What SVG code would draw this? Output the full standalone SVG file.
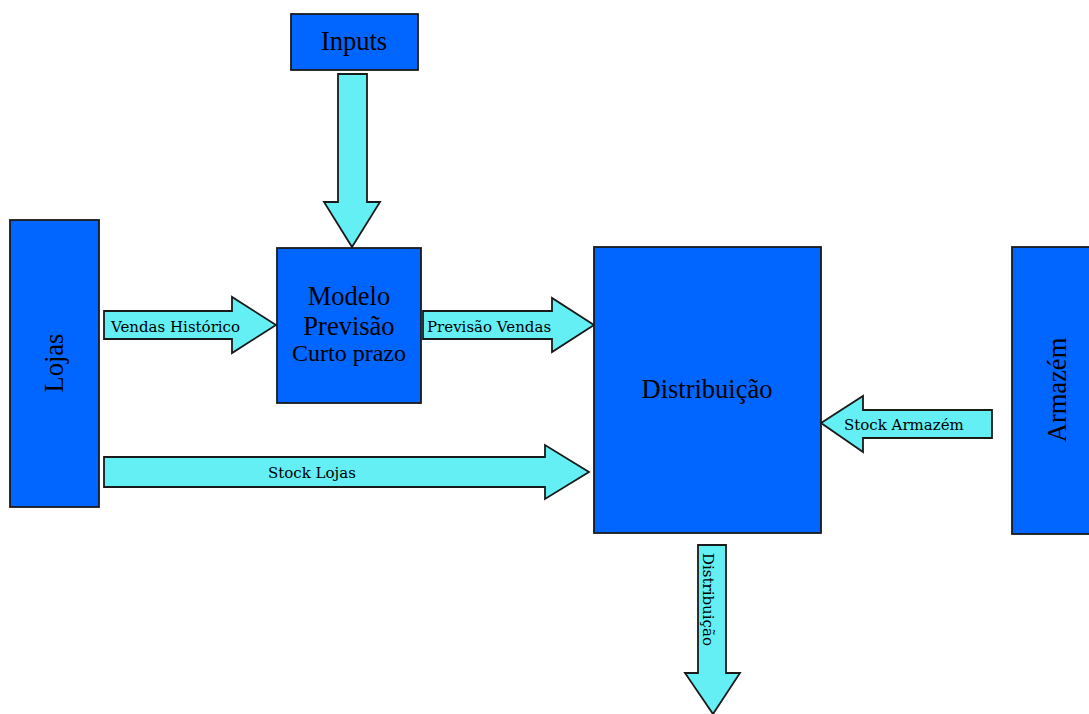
<svg xmlns="http://www.w3.org/2000/svg" width="1089" height="714" viewBox="0 0 1089 714">
  <style>
    .box { fill: #0066ff; stroke: #1a1a1a; stroke-width: 1.8; }
    .arrow { fill: #64eff4; stroke: #1a1a1a; stroke-width: 1.8; stroke-linejoin: miter; }
    .big { font-family: "Liberation Serif", "Times New Roman", serif; font-size: 26.5px; fill: #000; text-anchor: middle; }
    .mid { font-family: "Liberation Serif", "Times New Roman", serif; font-size: 24px; fill: #000; text-anchor: middle; }
    .lbl { font-family: "DejaVu Serif", serif; font-size: 15px; fill: #000; }
  </style>
  <rect width="1089" height="714" fill="#ffffff"/>

  <!-- flow arrows -->
  <g id="connectors">
    <polygon class="arrow" points="338,74 367,74 367,202 380,202 352,247 324,202 338,202"/>
    <g id="vendas-historico">
      <polygon class="arrow" points="104,311 232,311 232,297 276,325 232,353 232,339 104,339"/>
      <text class="lbl" x="111" y="331.5">Vendas Histórico</text>
    </g>
    <g id="previsao-vendas">
      <polygon class="arrow" points="423,311 552,311 552,298 594,325 552,352 552,339 423,339"/>
      <text class="lbl" x="427" y="331.5">Previsão Vendas</text>
    </g>
    <g id="stock-lojas">
      <polygon class="arrow" points="104,457 545,457 545,445 589,472 545,499 545,487 104,487"/>
      <text class="lbl" x="268" y="478">Stock Lojas</text>
    </g>
    <g id="stock-armazem">
      <polygon class="arrow" points="992,410 863,410 863,396 821,423 863,452 863,438 992,438"/>
      <text class="lbl" x="844" y="430">Stock Armazém</text>
    </g>
    <g id="saida-distribuicao">
      <polygon class="arrow" points="698,545 726,545 726,673 740,673 713,714 685,673 698,673"/>
      <text class="lbl" transform="translate(703,553) rotate(90)">Distribuição</text>
    </g>
  </g>

  <g id="inputs">
    <rect class="box" x="291" y="14" width="127" height="56"/>
    <text class="big" x="354" y="50">Inputs</text>
  </g>

  <g id="modelo">
    <rect class="box" x="277" y="248" width="144" height="155"/>
    <text class="big" x="349" y="305">Modelo</text>
    <text class="big" x="349" y="335">Previsão</text>
    <text class="mid" x="349" y="361">Curto prazo</text>
  </g>

  <g id="lojas">
    <rect class="box" x="10" y="220" width="89" height="287"/>
    <text class="big" transform="translate(63,363) rotate(-90)">Lojas</text>
  </g>

  <g id="distribuicao">
    <rect class="box" x="594" y="247" width="227" height="286"/>
    <text class="big" x="707" y="398">Distribuição</text>
  </g>

  <g id="armazem">
    <rect class="box" x="1012" y="247" width="89" height="287"/>
    <text class="big" transform="translate(1066,390) rotate(-90)">Armazém</text>
  </g>
</svg>
